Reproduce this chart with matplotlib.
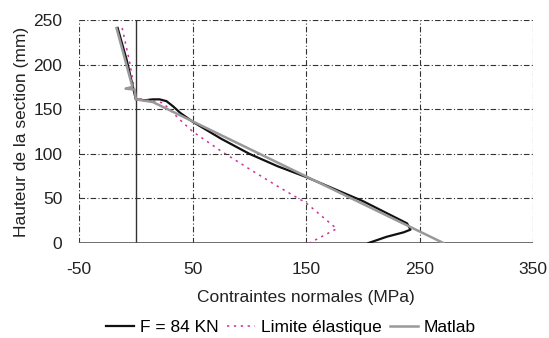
import matplotlib
matplotlib.use("Agg")
import matplotlib.pyplot as plt

plt.rcParams['font.family'] = ['Liberation Sans', 'DejaVu Sans']
plt.rcParams['axes.unicode_minus'] = False

# F = 84 KN
f84_x = [-16, -8, 0, 8, 15, 21, 27, 33, 39, 50, 75, 100, 125, 150, 200, 239, 242, 236, 221, 205]
f84_y = [241, 205, 161, 160, 161, 161, 159, 153, 146, 136, 117, 100, 86, 74, 47, 22, 15, 12, 7, 0]

# Limite elastique
lim_x = [-12, -5, 0, 12, 24, 39, 50, 74, 100, 127, 150, 177, 165, 153]
lim_y = [241, 200, 162, 160, 157, 138, 125, 104, 83, 62, 45, 16, 8, 0]

# Matlab
mat_x = [-17, -3, -9, -1, 0, 15, 271]
mat_y = [241, 175, 173, 172, 161, 158, 0]

xticks = [-50, 50, 150, 250, 350]
yticks = [0, 50, 100, 150, 200, 250]

fig = plt.figure(figsize=(5.49, 3.38), dpi=100)
ax = fig.add_axes([0.144, 0.281, 0.827, 0.66])

for s in ax.spines.values():
    s.set_visible(False)

for x in xticks:
    ax.axvline(x, color="#333333", lw=0.8, ls=(0, (5, 2, 1, 2)), zorder=0)
for y in yticks[1:]:
    ax.axhline(y, color="#333333", lw=0.8, ls=(0, (5, 2, 1, 2)), zorder=0)
ax.axvline(0, color="#333333", lw=1.0, zorder=1)
ax.axhline(0, color="#555555", lw=1.2, zorder=1)

ax.plot(mat_x, mat_y, color="#999999", lw=1.8, label="Matlab", zorder=3)
ax.plot(f84_x, f84_y, color="#111111", lw=1.6, label="F = 84 KN", zorder=2)
ax.plot(lim_x, lim_y, color="#c9339a", lw=1.1, ls=(0, (1.5, 3)), label="Limite élastique", zorder=2)

ax.set_xlim(-50, 350)
ax.set_ylim(0, 250)
ax.set_xticks(xticks)
ax.set_yticks(yticks)
ax.tick_params(axis="both", labelsize=12.5, length=0, colors="#222222")
ax.tick_params(axis="x", pad=14)
ax.tick_params(axis="y", pad=12)
ax.set_xlabel("Contraintes normales (MPa)", fontsize=12.5, color="#222222", labelpad=9)
ax.set_ylabel("Hauteur de la section (mm)", fontsize=12.5, color="#222222", labelpad=3)

h, l = ax.get_legend_handles_labels()
order = [1, 2, 0]
fig.legend([h[i] for i in order], [l[i] for i in order], loc="center",
           bbox_to_anchor=(0.53, 0.032), ncol=3, frameon=False, fontsize=12.5,
           handlelength=1.6, handletextpad=0.35, columnspacing=0.5)

fig.savefig("out.png", dpi=100)
